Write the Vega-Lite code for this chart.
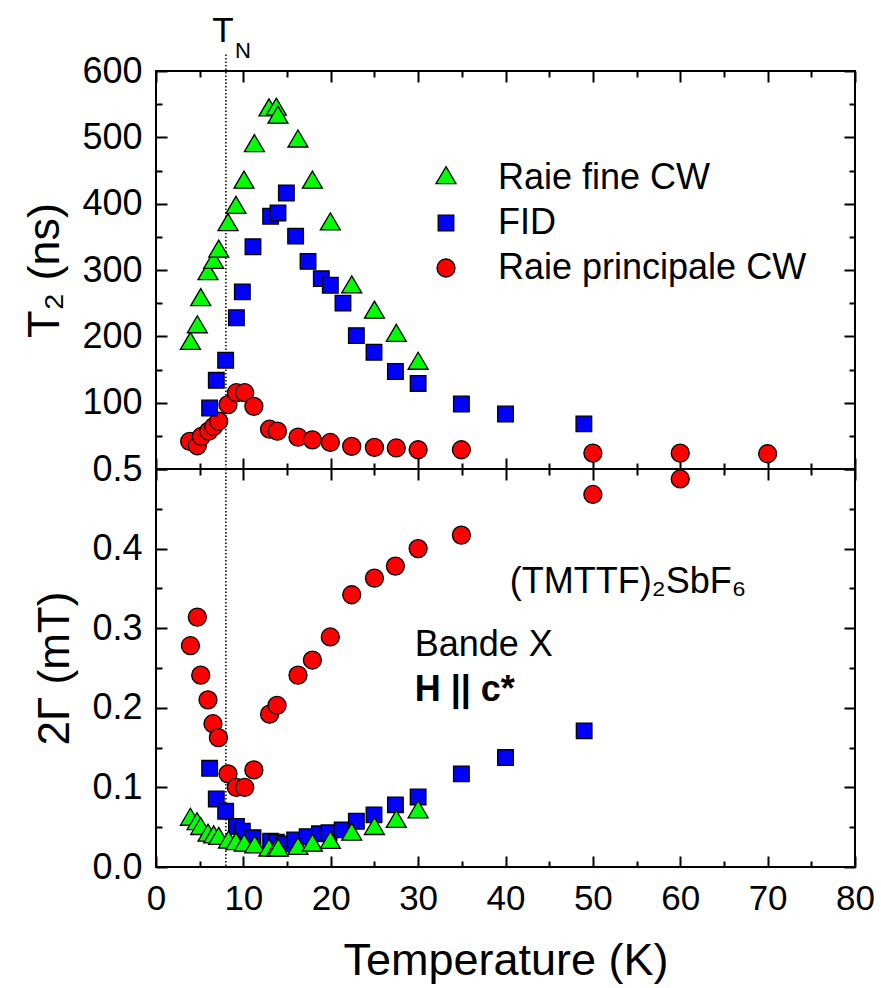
{
  "$schema": "https://vega.github.io/schema/vega-lite/v6.json",
  "padding": {"left": 21, "top": 13, "right": 5, "bottom": 5},
  "background": "white",
  "bounds": "flush",
  "spacing": 0,
  "datasets": {
    "t2": [
      {"T": 3.86, "v": 41.6, "series": "Raie principale CW"},
      {"T": 4.73, "v": 35, "series": "Raie principale CW"},
      {"T": 5.19, "v": 49, "series": "Raie principale CW"},
      {"T": 6.03, "v": 57, "series": "Raie principale CW"},
      {"T": 6.6, "v": 64, "series": "Raie principale CW"},
      {"T": 7.17, "v": 72, "series": "Raie principale CW"},
      {"T": 8.24, "v": 97, "series": "Raie principale CW"},
      {"T": 9.2, "v": 115, "series": "Raie principale CW"},
      {"T": 10.15, "v": 115, "series": "Raie principale CW"},
      {"T": 11.2, "v": 94.5, "series": "Raie principale CW"},
      {"T": 13.0, "v": 60, "series": "Raie principale CW"},
      {"T": 13.9, "v": 57, "series": "Raie principale CW"},
      {"T": 16.25, "v": 48, "series": "Raie principale CW"},
      {"T": 17.9, "v": 44, "series": "Raie principale CW"},
      {"T": 19.95, "v": 40, "series": "Raie principale CW"},
      {"T": 22.4, "v": 34, "series": "Raie principale CW"},
      {"T": 25.0, "v": 32.6, "series": "Raie principale CW"},
      {"T": 27.5, "v": 31.7, "series": "Raie principale CW"},
      {"T": 30.0, "v": 29, "series": "Raie principale CW"},
      {"T": 34.95, "v": 29, "series": "Raie principale CW"},
      {"T": 50.0, "v": 24, "series": "Raie principale CW"},
      {"T": 60.0, "v": 24, "series": "Raie principale CW"},
      {"T": 70.0, "v": 23, "series": "Raie principale CW"},
      {"T": 6.14, "v": 92, "series": "FID"},
      {"T": 6.9, "v": 133.7, "series": "FID"},
      {"T": 7.97, "v": 164, "series": "FID"},
      {"T": 9.2, "v": 228, "series": "FID"},
      {"T": 9.88, "v": 267, "series": "FID"},
      {"T": 11.1, "v": 335, "series": "FID"},
      {"T": 13.12, "v": 381, "series": "FID"},
      {"T": 13.96, "v": 386, "series": "FID"},
      {"T": 14.92, "v": 416, "series": "FID"},
      {"T": 15.98, "v": 351, "series": "FID"},
      {"T": 17.4, "v": 313, "series": "FID"},
      {"T": 18.92, "v": 287, "series": "FID"},
      {"T": 19.95, "v": 277, "series": "FID"},
      {"T": 21.4, "v": 250, "series": "FID"},
      {"T": 22.93, "v": 201, "series": "FID"},
      {"T": 24.95, "v": 176, "series": "FID"},
      {"T": 27.4, "v": 147, "series": "FID"},
      {"T": 30.0, "v": 129, "series": "FID"},
      {"T": 34.95, "v": 98, "series": "FID"},
      {"T": 40.0, "v": 83, "series": "FID"},
      {"T": 48.97, "v": 68, "series": "FID"},
      {"T": 3.94, "v": 189, "series": "Raie fine CW"},
      {"T": 4.73, "v": 214, "series": "Raie fine CW"},
      {"T": 5.12, "v": 255, "series": "Raie fine CW"},
      {"T": 5.95, "v": 294, "series": "Raie fine CW"},
      {"T": 6.6, "v": 311, "series": "Raie fine CW"},
      {"T": 7.18, "v": 328, "series": "Raie fine CW"},
      {"T": 8.24, "v": 368, "series": "Raie fine CW"},
      {"T": 9.15, "v": 394, "series": "Raie fine CW"},
      {"T": 10.07, "v": 432, "series": "Raie fine CW"},
      {"T": 11.26, "v": 487, "series": "Raie fine CW"},
      {"T": 12.93, "v": 541, "series": "Raie fine CW"},
      {"T": 13.77, "v": 542, "series": "Raie fine CW"},
      {"T": 13.96, "v": 530, "series": "Raie fine CW"},
      {"T": 16.25, "v": 494, "series": "Raie fine CW"},
      {"T": 17.9, "v": 432, "series": "Raie fine CW"},
      {"T": 19.95, "v": 369, "series": "Raie fine CW"},
      {"T": 22.4, "v": 274, "series": "Raie fine CW"},
      {"T": 25.0, "v": 236, "series": "Raie fine CW"},
      {"T": 27.5, "v": 201, "series": "Raie fine CW"},
      {"T": 30.0, "v": 159, "series": "Raie fine CW"}
    ],
    "gamma": [
      {"T": 3.94, "v": 0.278, "series": "Raie principale CW"},
      {"T": 4.73, "v": 0.314, "series": "Raie principale CW"},
      {"T": 5.12, "v": 0.241, "series": "Raie principale CW"},
      {"T": 5.95, "v": 0.21, "series": "Raie principale CW"},
      {"T": 6.52, "v": 0.18, "series": "Raie principale CW"},
      {"T": 7.14, "v": 0.1625, "series": "Raie principale CW"},
      {"T": 8.24, "v": 0.117, "series": "Raie principale CW"},
      {"T": 9.2, "v": 0.1, "series": "Raie principale CW"},
      {"T": 10.15, "v": 0.1, "series": "Raie principale CW"},
      {"T": 11.2, "v": 0.122, "series": "Raie principale CW"},
      {"T": 13.0, "v": 0.192, "series": "Raie principale CW"},
      {"T": 13.85, "v": 0.203, "series": "Raie principale CW"},
      {"T": 16.25, "v": 0.241, "series": "Raie principale CW"},
      {"T": 17.9, "v": 0.26, "series": "Raie principale CW"},
      {"T": 19.95, "v": 0.289, "series": "Raie principale CW"},
      {"T": 22.4, "v": 0.342, "series": "Raie principale CW"},
      {"T": 25.0, "v": 0.363, "series": "Raie principale CW"},
      {"T": 27.4, "v": 0.378, "series": "Raie principale CW"},
      {"T": 30.0, "v": 0.4, "series": "Raie principale CW"},
      {"T": 34.95, "v": 0.417, "series": "Raie principale CW"},
      {"T": 50.0, "v": 0.468, "series": "Raie principale CW"},
      {"T": 60.0, "v": 0.4875, "series": "Raie principale CW"},
      {"T": 6.14, "v": 0.124, "series": "FID"},
      {"T": 6.9, "v": 0.0855, "series": "FID"},
      {"T": 7.97, "v": 0.07, "series": "FID"},
      {"T": 9.2, "v": 0.051, "series": "FID"},
      {"T": 9.88, "v": 0.045, "series": "FID"},
      {"T": 11.1, "v": 0.0367, "series": "FID"},
      {"T": 13.12, "v": 0.0325, "series": "FID"},
      {"T": 13.77, "v": 0.031, "series": "FID"},
      {"T": 14.73, "v": 0.029, "series": "FID"},
      {"T": 15.87, "v": 0.034, "series": "FID"},
      {"T": 17.3, "v": 0.038, "series": "FID"},
      {"T": 18.7, "v": 0.0417, "series": "FID"},
      {"T": 19.8, "v": 0.043, "series": "FID"},
      {"T": 21.3, "v": 0.0467, "series": "FID"},
      {"T": 22.93, "v": 0.0575, "series": "FID"},
      {"T": 24.95, "v": 0.0655, "series": "FID"},
      {"T": 27.4, "v": 0.078, "series": "FID"},
      {"T": 30.0, "v": 0.088, "series": "FID"},
      {"T": 34.95, "v": 0.117, "series": "FID"},
      {"T": 40.0, "v": 0.1375, "series": "FID"},
      {"T": 49.0, "v": 0.171, "series": "FID"},
      {"T": 3.94, "v": 0.0596, "series": "Raie fine CW"},
      {"T": 4.7, "v": 0.054, "series": "Raie fine CW"},
      {"T": 5.12, "v": 0.048, "series": "Raie fine CW"},
      {"T": 5.95, "v": 0.0396, "series": "Raie fine CW"},
      {"T": 6.6, "v": 0.0375, "series": "Raie fine CW"},
      {"T": 7.18, "v": 0.0355, "series": "Raie fine CW"},
      {"T": 8.3, "v": 0.031, "series": "Raie fine CW"},
      {"T": 9.15, "v": 0.029, "series": "Raie fine CW"},
      {"T": 10.1, "v": 0.027, "series": "Raie fine CW"},
      {"T": 11.3, "v": 0.025, "series": "Raie fine CW"},
      {"T": 12.93, "v": 0.021, "series": "Raie fine CW"},
      {"T": 13.77, "v": 0.021, "series": "Raie fine CW"},
      {"T": 14.0, "v": 0.021, "series": "Raie fine CW"},
      {"T": 16.25, "v": 0.023, "series": "Raie fine CW"},
      {"T": 17.9, "v": 0.027, "series": "Raie fine CW"},
      {"T": 19.95, "v": 0.0305, "series": "Raie fine CW"},
      {"T": 22.4, "v": 0.041, "series": "Raie fine CW"},
      {"T": 25.0, "v": 0.048, "series": "Raie fine CW"},
      {"T": 27.5, "v": 0.057, "series": "Raie fine CW"},
      {"T": 30.0, "v": 0.069, "series": "Raie fine CW"}
    ]
  },
  "vconcat": [
    {
      "width": 699,
      "height": 398,
      "data": {"name": "t2"},
      "resolve": {"axis": {"x": "independent", "y": "independent"}},
      "layer": [
        {
          "data": {"values": [{}]},
          "mark": {"type": "rule", "color": "black", "strokeWidth": 1.5, "strokeDash": [1.5, 2]},
          "encoding": {
            "x": {"datum": 8, "type": "quantitative", "axis": null, "scale": {"domain": [0, 80], "nice": false}},
            "y": {"datum": 0, "type": "quantitative", "axis": null, "scale": {"domain": [0, 600], "nice": false}},
            "y2": {"datum": 628}
          }
        },
        {
          "mark": {"type": "point", "filled": true, "opacity": 1, "stroke": "black", "strokeWidth": 1.3, "size": 400},
          "encoding": {
            "x": {"field": "T", "type": "quantitative", "scale": {"domain": [0, 80], "nice": false},
              "axis": {"orient": "bottom", "values": [0,5,10,15,20,25,30,35,40,45,50,55,60,65,70,75,80], "labels": false, "title": null,
                "tickSize": {"condition": {"test": "datum.value % 10 === 0", "value": -11}, "value": -6}}},
            "y": {"field": "v", "type": "quantitative", "scale": {"domain": [0, 600], "nice": false},
              "axis": {"orient": "left", "values": [0,50,100,150,200,250,300,350,400,450,500,550,600], "labels": false, "title": null,
                "tickSize": {"condition": {"test": "datum.value % 100 === 0", "value": -11}, "value": -6}}},
            "color": {"field": "series", "type": "nominal",
              "scale": {"domain": ["Raie fine CW", "FID", "Raie principale CW"], "range": ["#00ff00", "#0000ff", "#ff0000"]},
              "legend": {"title": null, "orient": "none", "legendX": 272, "legendY": 89, "labelFont": "Liberation Sans", "labelFontSize": 36, "labelColor": "black", "labelLimit": 500, "labelOffset": 34, "rowPadding": 9, "symbolSize": 400, "symbolStrokeColor": "black", "symbolStrokeWidth": 1.3}},
            "shape": {"field": "series", "type": "nominal",
              "scale": {"domain": ["Raie fine CW", "FID", "Raie principale CW"],
                "range": ["M0,-1.13L1,0.57L-1,0.57Z", "M-0.78,-0.78H0.78V0.78H-0.78Z", "M0.9,0A0.9,0.9,0,1,1,-0.9,0A0.9,0.9,0,1,1,0.9,0Z"]}}
          }
        },
        {
          "mark": {"type": "point", "opacity": 0},
          "encoding": {
            "x": {"field": "T", "type": "quantitative", "scale": {"domain": [0, 80], "nice": false},
              "axis": {"orient": "top", "values": [0,5,10,15,20,25,30,35,40,45,50,55,60,65,70,75,80], "labels": false, "title": null,
                "tickSize": {"condition": {"test": "datum.value % 10 === 0", "value": -11}, "value": -6}}},
            "y": {"field": "v", "type": "quantitative", "scale": {"domain": [0, 600], "nice": false},
              "axis": {"orient": "right", "values": [0,50,100,150,200,250,300,350,400,450,500,550,600], "labels": false, "title": null,
                "tickSize": {"condition": {"test": "datum.value % 100 === 0", "value": -11}, "value": -6}}}
          }
        },
        {
          "mark": {"type": "point", "opacity": 0},
          "encoding": {
            "x": {"field": "T", "type": "quantitative", "scale": {"domain": [0, 80], "nice": false}, "axis": null},
            "y": {"field": "v", "type": "quantitative", "scale": {"domain": [0, 600], "nice": false},
              "axis": {"orient": "left", "values": [100,200,300,400,500,600], "ticks": false, "labelPadding": 14, "labelFontSize": 36, "labelOverlap": false,
                "title": "T₂ (ns)", "titleFontSize": 45, "titlePadding": 14}}
          }
        },
        {
          "data": {"values": [{}]},
          "mark": {"type": "text", "text": "T", "font": "Liberation Sans", "fontSize": 35, "align": "center", "baseline": "alphabetic", "dx": -3, "color": "black"},
          "encoding": {
            "x": {"datum": 8, "type": "quantitative", "axis": null},
            "y": {"datum": 643, "type": "quantitative", "axis": null}
          }
        },
        {
          "data": {"values": [{}]},
          "mark": {"type": "text", "text": "N", "font": "Liberation Sans", "fontSize": 22, "align": "left", "baseline": "alphabetic", "dx": 9, "color": "black"},
          "encoding": {
            "x": {"datum": 8, "type": "quantitative", "axis": null},
            "y": {"datum": 620, "type": "quantitative", "axis": null}
          }
        }
      ]
    },
    {
      "width": 699,
      "height": 398,
      "data": {"name": "gamma"},
      "resolve": {"axis": {"x": "independent", "y": "independent"}},
      "layer": [
        {
          "data": {"values": [{}]},
          "mark": {"type": "rule", "color": "black", "strokeWidth": 1.5, "strokeDash": [1.5, 2]},
          "encoding": {
            "x": {"datum": 8, "type": "quantitative", "axis": null, "scale": {"domain": [0, 80], "nice": false}}
          }
        },
        {
          "mark": {"type": "point", "filled": true, "opacity": 1, "stroke": "black", "strokeWidth": 1.3, "size": 400},
          "encoding": {
            "x": {"field": "T", "type": "quantitative", "scale": {"domain": [0, 80], "nice": false},
              "axis": {"orient": "bottom", "values": [0,5,10,15,20,25,30,35,40,45,50,55,60,65,70,75,80], "labels": false, "title": null,
                "tickSize": {"condition": {"test": "datum.value % 10 === 0", "value": -11}, "value": -6}}},
            "y": {"field": "v", "type": "quantitative", "scale": {"domain": [0, 0.5], "nice": false},
              "axis": {"orient": "left", "values": [0,0.05,0.1,0.15,0.2,0.25,0.3,0.35,0.4,0.45,0.5], "labels": false, "title": null,
                "tickSize": {"condition": {"test": "round(datum.value * 100) % 10 === 0", "value": -11}, "value": -6}}},
            "color": {"field": "series", "type": "nominal",
              "scale": {"domain": ["Raie fine CW", "FID", "Raie principale CW"], "range": ["#00ff00", "#0000ff", "#ff0000"]}, "legend": null},
            "shape": {"field": "series", "type": "nominal",
              "scale": {"domain": ["Raie fine CW", "FID", "Raie principale CW"],
                "range": ["M0,-1.13L1,0.57L-1,0.57Z", "M-0.78,-0.78H0.78V0.78H-0.78Z", "M0.9,0A0.9,0.9,0,1,1,-0.9,0A0.9,0.9,0,1,1,0.9,0Z"]}, "legend": null}
          }
        },
        {
          "mark": {"type": "point", "opacity": 0},
          "encoding": {
            "x": {"field": "T", "type": "quantitative", "scale": {"domain": [0, 80], "nice": false},
              "axis": {"orient": "top", "values": [0,5,10,15,20,25,30,35,40,45,50,55,60,65,70,75,80], "labels": false, "title": null,
                "tickSize": {"condition": {"test": "datum.value % 10 === 0", "value": -11}, "value": -6}}},
            "y": {"field": "v", "type": "quantitative", "scale": {"domain": [0, 0.5], "nice": false},
              "axis": {"orient": "right", "values": [0,0.05,0.1,0.15,0.2,0.25,0.3,0.35,0.4,0.45,0.5], "labels": false, "title": null,
                "tickSize": {"condition": {"test": "round(datum.value * 100) % 10 === 0", "value": -11}, "value": -6}}}
          }
        },
        {
          "mark": {"type": "point", "opacity": 0},
          "encoding": {
            "x": {"field": "T", "type": "quantitative", "scale": {"domain": [0, 80], "nice": false},
              "axis": {"orient": "bottom", "values": [0,10,20,30,40,50,60,70,80], "ticks": false, "labelPadding": 14, "labelFontSize": 35,
                "labelFlush": false, "labelOverlap": false,
                "title": "Temperature (K)", "titleFontSize": 45, "titlePadding": 22}},
            "y": {"field": "v", "type": "quantitative", "scale": {"domain": [0, 0.5], "nice": false},
              "axis": {"orient": "left", "values": [0,0.1,0.2,0.3,0.4,0.5], "format": ".1f", "ticks": false, "labelPadding": 14, "labelFontSize": 36, "labelOverlap": false,
                "title": "2Γ (mT)", "titleFontSize": 44, "titlePadding": 14}}
          }
        },
        {
          "data": {"values": [{}]},
          "mark": {"type": "text", "text": "(TMTTF)₂SbF₆", "font": "Liberation Sans", "fontSize": 36, "align": "left", "baseline": "alphabetic", "color": "black"},
          "encoding": {
            "x": {"datum": 40.5, "type": "quantitative", "axis": null},
            "y": {"datum": 0.344, "type": "quantitative", "axis": null}
          }
        },
        {
          "data": {"values": [{}]},
          "mark": {"type": "text", "text": "Bande X", "font": "Liberation Sans", "fontSize": 36, "align": "left", "baseline": "alphabetic", "color": "black"},
          "encoding": {
            "x": {"datum": 29.6, "type": "quantitative", "axis": null},
            "y": {"datum": 0.2655, "type": "quantitative", "axis": null}
          }
        },
        {
          "data": {"values": [{}]},
          "mark": {"type": "text", "text": "H || c*", "font": "Liberation Sans", "fontSize": 36, "fontWeight": "bold", "align": "left", "baseline": "alphabetic", "color": "black"},
          "encoding": {
            "x": {"datum": 29.6, "type": "quantitative", "axis": null},
            "y": {"datum": 0.208, "type": "quantitative", "axis": null}
          }
        }
      ]
    }
  ],
  "config": {
    "view": {"stroke": "black", "strokeWidth": 2},
    "axis": {"domain": false, "grid": false, "tickColor": "black", "tickWidth": 2, "labelColor": "black", "titleColor": "black",
      "labelFont": "Liberation Sans", "titleFont": "Liberation Sans", "titleFontWeight": "normal"},
    "legend": {"labelFont": "Liberation Sans"}
  }
}
